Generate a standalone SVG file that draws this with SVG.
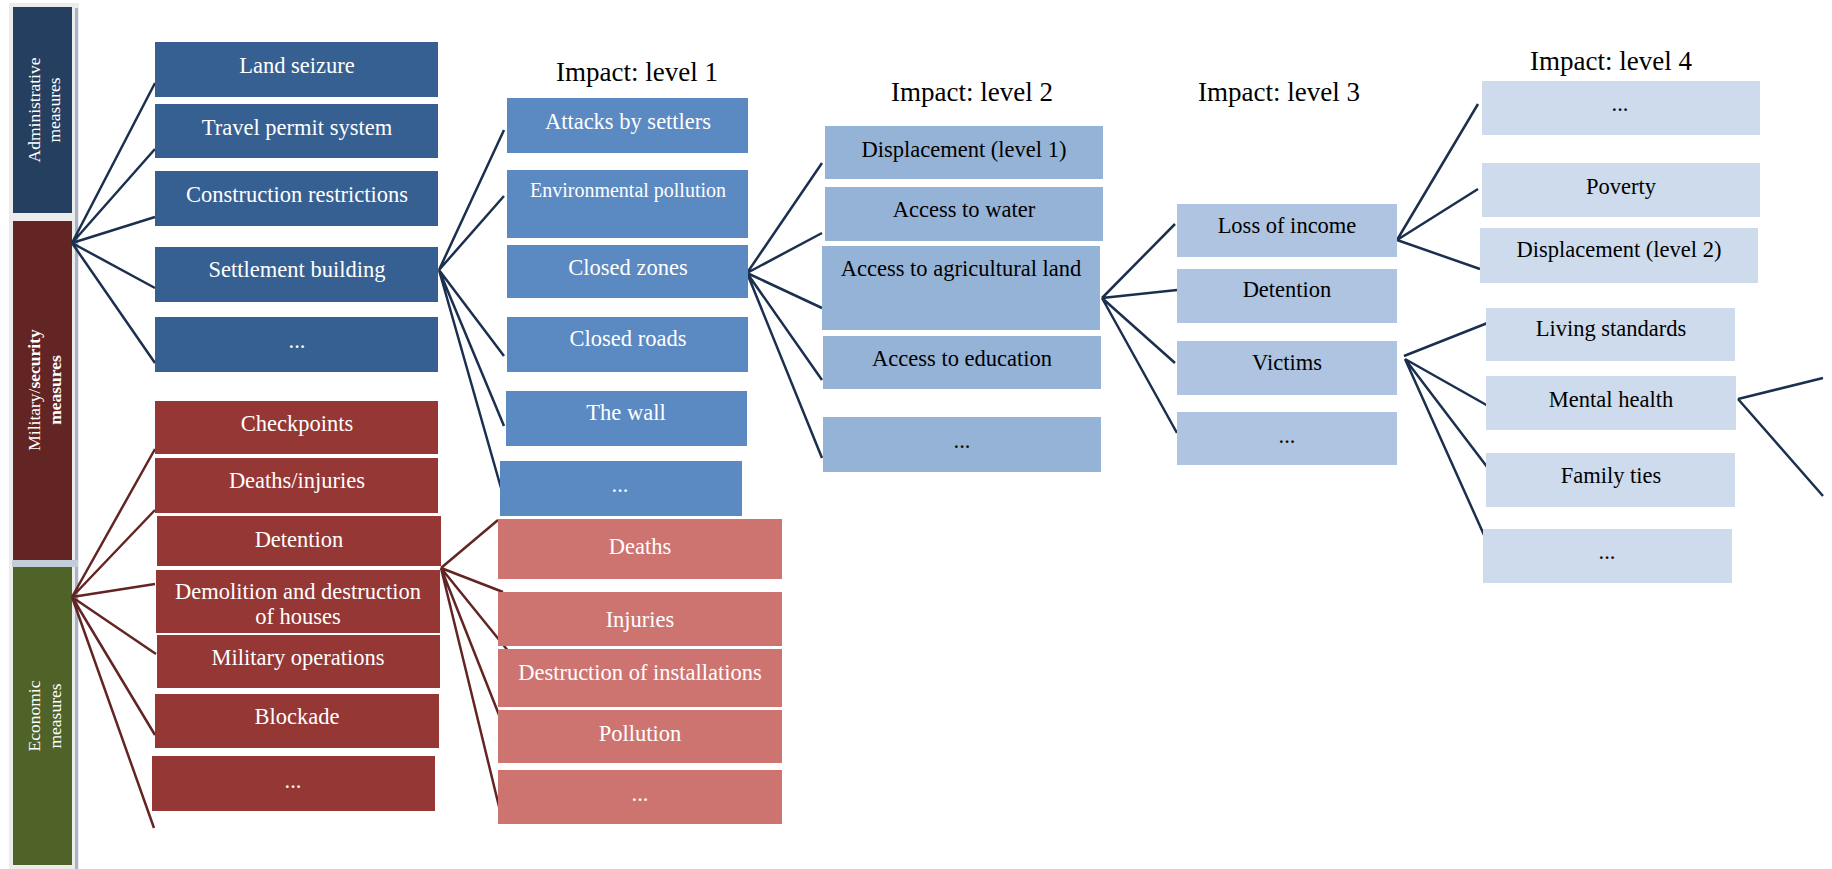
<svg xmlns="http://www.w3.org/2000/svg" width="1832" height="869" viewBox="0 0 1832 869">
<style>
.t{font-family:"Liberation Serif","Times New Roman",serif;font-size:22.5px;text-anchor:middle}
.w{fill:#ffffff}
.k{fill:#000000}
.ttl{font-family:"Liberation Serif","Times New Roman",serif;font-size:27px;text-anchor:middle;fill:#000}
.sd{font-family:"Liberation Serif","Times New Roman",serif;font-size:17.5px;text-anchor:middle;fill:#ffffff}
.b0{fill:#366092}
.r0{fill:#953735}
.b1{fill:#5b89c2}
.r1{fill:#cd7471}
.b2{fill:#95b3d7}
.b3{fill:#aec4e0}
.b4{fill:#cedbec}
.ln{stroke:#1b2f4f;stroke-width:2.5;fill:none}
.lr{stroke:#632523;stroke-width:2.5;fill:none}
</style>
<rect x="0" y="0" width="1832" height="869" fill="#ffffff"/>

<g id="sidebar">
  <rect x="9" y="3" width="70" height="866" fill="#ececec"/>
  <rect x="75" y="8" width="3" height="861" fill="#a6b3c8"/>
  <rect x="12" y="560" width="66" height="7" fill="#c3ccd9"/>
</g>
<g id="admin">
  <rect x="13" y="7" width="59" height="206" fill="#253f60"/>
  <text class="sd" transform="translate(40,110) rotate(-90)">Administrative</text>
  <text class="sd" transform="translate(60,110) rotate(-90)">measures</text>
</g>
<g id="military">
  <rect x="13" y="221" width="59" height="339" fill="#622523"/>
  <text class="sd" transform="translate(40,390) rotate(-90)">Military/<tspan font-weight="bold">security</tspan></text>
  <text class="sd" font-weight="bold" transform="translate(61,390) rotate(-90)">measures</text>
</g>
<g id="economic">
  <rect x="13" y="567" width="59" height="298" fill="#4f6228"/>
  <text class="sd" transform="translate(40,716) rotate(-90)">Economic</text>
  <text class="sd" transform="translate(61,716) rotate(-90)">measures</text>
</g>

<g id="connectors">
  <path class="ln" d="M72,243 L155,83 M72,243 L155,149 M72,243 L155,217 M72,243 L155,288 M72,243 L155,363"/>
  <path class="lr" d="M72,597 L155,449 M72,597 L155,510 M72,597 L155,584 M72,597 L156,654 M72,597 L155,735 M72,597 L154,828"/>
  <path class="ln" d="M439,270 L504,130 M439,270 L504,196 M439,270 L504,356 M439,270 L504,426 M439,270 L503,495"/>
  <path class="lr" d="M441,568 L498,520 M441,568 L503,592 M441,568 L509,652 M441,568 L503,725 M441,568 L503,823"/>
  <path class="ln" d="M747,273 L822,163 M747,273 L822,233 M747,273 L822,308 M747,273 L822,380 M747,273 L822,458"/>
  <path class="ln" d="M1102,298 L1175,224 M1102,298 L1177,290 M1102,298 L1175,363 M1102,298 L1177,433"/>
  <path class="ln" d="M1397,240 L1478,104 M1397,240 L1478,189 M1397,240 L1480,269"/>
  <path class="ln" d="M1404,356 L1490,322 M1405,359 L1490,407 M1405,359 L1494,476 M1405,359 L1493,555"/>
  <path class="ln" d="M1738,399 L1823,378 M1738,399 L1823,496"/>
</g>

<g id="titles">
  <text class="ttl" x="637" y="81">Impact: level 1</text>
  <text class="ttl" x="972" y="101">Impact: level 2</text>
  <text class="ttl" x="1279" y="101">Impact: level 3</text>
  <text class="ttl" x="1611" y="70">Impact: level 4</text>
</g>

<g id="land-seizure"><rect class="b0" x="155" y="42" width="283" height="55"/><text class="t w" x="297" y="73">Land seizure</text></g>
<g id="travel-permit"><rect class="b0" x="155" y="104" width="283" height="54"/><text class="t w" x="297" y="135">Travel permit system</text></g>
<g id="construction"><rect class="b0" x="155" y="171" width="283" height="55"/><text class="t w" x="297" y="202">Construction restrictions</text></g>
<g id="settlement"><rect class="b0" x="155" y="247" width="283" height="55"/><text class="t w" x="297" y="277">Settlement building</text></g>
<g id="admin-more"><rect class="b0" x="155" y="317" width="283" height="55"/><text class="t w" x="297" y="348">...</text></g>

<g id="checkpoints"><rect class="r0" x="155" y="401" width="283" height="53"/><text class="t w" x="297" y="431">Checkpoints</text></g>
<g id="deaths-injuries"><rect class="r0" x="155" y="458" width="283" height="55"/><text class="t w" x="297" y="488">Deaths/injuries</text></g>
<g id="detention0"><rect class="r0" x="157" y="516" width="284" height="50"/><text class="t w" x="299" y="547">Detention</text></g>
<g id="demolition"><rect class="r0" x="156" y="570" width="284" height="63"/><text class="t w" x="298" y="599">Demolition and destruction</text><text class="t w" x="298" y="624">of houses</text></g>
<g id="military-ops"><rect class="r0" x="157" y="635" width="283" height="53"/><text class="t w" x="298" y="665">Military operations</text></g>
<g id="blockade"><rect class="r0" x="155" y="694" width="284" height="54"/><text class="t w" x="297" y="724">Blockade</text></g>
<g id="military-more"><rect class="r0" x="152" y="756" width="283" height="55"/><text class="t w" x="293" y="788">...</text></g>

<g id="attacks"><rect class="b1" x="507" y="98" width="241" height="55"/><text class="t w" x="628" y="129">Attacks by settlers</text></g>
<g id="env-pollution"><rect class="b1" x="507" y="170" width="241" height="68"/><text class="t w" x="628" y="197" style="font-size:20px">Environmental pollution</text></g>
<g id="closed-zones"><rect class="b1" x="507" y="245" width="241" height="53"/><text class="t w" x="628" y="275">Closed zones</text></g>
<g id="closed-roads"><rect class="b1" x="507" y="317" width="241" height="55"/><text class="t w" x="628" y="346">Closed roads</text></g>
<g id="wall"><rect class="b1" x="506" y="391" width="241" height="55"/><text class="t w" x="626" y="420">The wall</text></g>
<g id="level1-more"><rect class="b1" x="500" y="461" width="242" height="55"/><text class="t w" x="620" y="492">...</text></g>

<g id="deaths"><rect class="r1" x="498" y="519" width="284" height="60"/><text class="t w" x="640" y="554">Deaths</text></g>
<g id="injuries"><rect class="r1" x="498" y="592" width="284" height="54"/><text class="t w" x="640" y="627">Injuries</text></g>
<g id="destruction"><rect class="r1" x="498" y="649" width="284" height="58"/><text class="t w" x="640" y="680">Destruction of installations</text></g>
<g id="pollution"><rect class="r1" x="498" y="710" width="284" height="53"/><text class="t w" x="640" y="741">Pollution</text></g>
<g id="red-more"><rect class="r1" x="498" y="770" width="284" height="54"/><text class="t w" x="640" y="801">...</text></g>

<g id="displacement1"><rect class="b2" x="825" y="126" width="278" height="53"/><text class="t k" x="964" y="157">Displacement (level 1)</text></g>
<g id="water"><rect class="b2" x="825" y="187" width="278" height="54"/><text class="t k" x="964" y="217">Access to water</text></g>
<g id="agri-land"><rect class="b2" x="822" y="246" width="278" height="84"/><text class="t k" x="961" y="276">Access to agricultural land</text></g>
<g id="education"><rect class="b2" x="823" y="336" width="278" height="53"/><text class="t k" x="962" y="366">Access to education</text></g>
<g id="level2-more"><rect class="b2" x="823" y="417" width="278" height="55"/><text class="t k" x="962" y="448">...</text></g>

<g id="loss-income"><rect class="b3" x="1177" y="204" width="220" height="53"/><text class="t k" x="1287" y="233">Loss of income</text></g>
<g id="detention3"><rect class="b3" x="1177" y="269" width="220" height="54"/><text class="t k" x="1287" y="297">Detention</text></g>
<g id="victims"><rect class="b3" x="1177" y="341" width="220" height="54"/><text class="t k" x="1287" y="370">Victims</text></g>
<g id="level3-more"><rect class="b3" x="1177" y="412" width="220" height="53"/><text class="t k" x="1287" y="443">...</text></g>

<g id="level4-more-top"><rect class="b4" x="1482" y="81" width="278" height="54"/><text class="t k" x="1620" y="111">...</text></g>
<g id="poverty"><rect class="b4" x="1482" y="163" width="278" height="54"/><text class="t k" x="1621" y="194">Poverty</text></g>
<g id="displacement2"><rect class="b4" x="1480" y="228" width="278" height="55"/><text class="t k" x="1619" y="257">Displacement (level 2)</text></g>
<g id="living"><rect class="b4" x="1486" y="308" width="249" height="53"/><text class="t k" x="1611" y="336">Living standards</text></g>
<g id="mental"><rect class="b4" x="1486" y="376" width="250" height="54"/><text class="t k" x="1611" y="407">Mental health</text></g>
<g id="family"><rect class="b4" x="1486" y="453" width="249" height="54"/><text class="t k" x="1611" y="483">Family ties</text></g>
<g id="level4-more-bottom"><rect class="b4" x="1483" y="529" width="249" height="54"/><text class="t k" x="1607" y="559">...</text></g>
</svg>
